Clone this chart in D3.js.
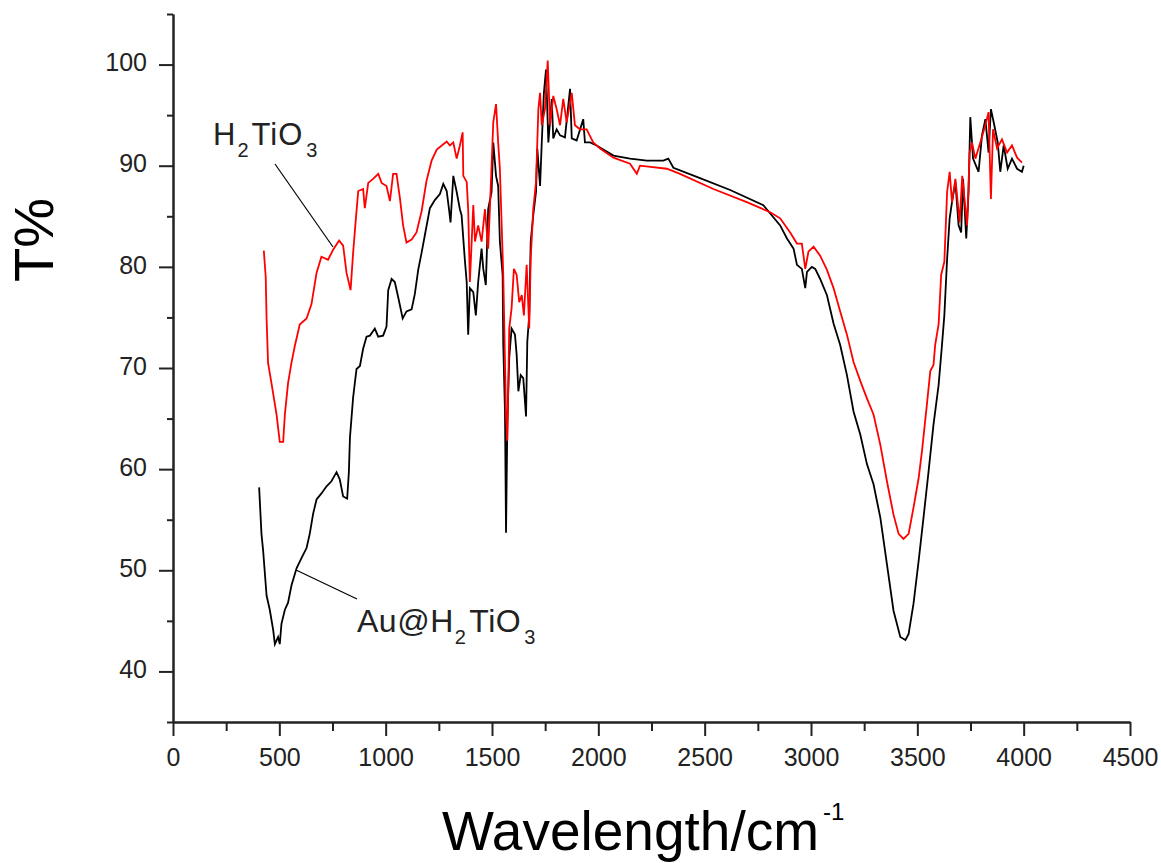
<!DOCTYPE html>
<html>
<head>
<meta charset="utf-8">
<script src="https://cdn.jsdelivr.net/npm/d3@7"></script>
<style>
  body { margin: 0; background: #fff; }
  text { font-family: "Liberation Sans", Arial, sans-serif; }
</style>
</head>
<body>
<div id="ftir-chart"></div>
<script>
// spectra: [wavenumber, T%]
var h2tio3 = [
  [427,81.6],[436,79.0],[440,74.9],[447,70.5],[463,68.5],[487,65.4],[502,62.7],[518,62.7],[526,65.4],
  [541,68.5],[557,70.5],[573,72.2],[596,74.3],[628,74.9],[651,76.3],[675,79.4],[698,81.0],[729,80.7],
  [753,81.7],[781,82.6],[800,82.1],[816,79.4],[835,77.7],[847,81.4],[860,84.8],[871,87.5],[894,87.7],
  [902,85.8],[918,88.3],[941,88.7],[965,89.2],[981,88.3],[1004,88.0],[1020,86.5],[1035,89.2],[1051,89.2],
  [1067,86.8],[1082,84.1],[1098,82.4],[1122,82.7],[1145,83.4],[1169,85.5],[1192,88.5],[1216,90.5],
  [1240,91.6],[1287,92.4],[1302,92.0],[1318,92.3],[1334,90.7],[1349,92.0],[1362,93.3],[1365,89.0],
  [1381,88.4],[1388,85.7],[1396,78.5],[1412,86.1],[1420,82.5],[1435,84.1],[1451,82.5],[1467,85.7],
  [1482,81.8],[1490,85.7],[1506,94.3],[1519,96.1],[1529,92.3],[1537,89.7],[1553,79.2],[1566,65.4],
  [1572,62.8],[1581,73.9],[1592,75.9],[1603,79.8],[1616,79.2],[1628,76.5],[1640,77.2],[1650,75.2],
  [1663,80.2],[1675,73.9],[1682,80.8],[1694,85.7],[1707,88.4],[1718,95.6],[1726,97.2],[1734,94.0],
  [1749,95.6],[1762,100.4],[1773,94.0],[1788,96.9],[1804,95.6],[1820,94.0],[1835,96.6],[1851,94.3],
  [1875,97.2],[1890,94.0],[1914,93.6],[1945,93.6],[1976,92.3],[2008,91.7],[2071,90.8],[2149,90.2],
  [2181,89.2],[2196,90.0],[2322,89.7],[2384,89.2],[2541,87.7],[2698,86.4],[2808,85.4],[2855,84.8],
  [2902,83.4],[2934,82.3],[2957,82.3],[2973,79.8],[2988,81.5],[3012,82.0],[3043,81.1],[3075,79.7],
  [3106,77.9],[3137,75.6],[3169,73.3],[3200,70.6],[3232,68.7],[3263,67.0],[3294,65.4],[3326,62.4],
  [3357,58.8],[3388,55.5],[3412,53.6],[3435,53.1],[3459,53.6],[3482,56.2],[3506,59.1],[3522,61.8],
  [3545,66.4],[3561,69.7],[3576,70.3],[3584,72.3],[3600,74.3],[3612,79.2],[3627,80.5],[3640,87.4],
  [3652,89.4],[3663,86.4],[3679,88.7],[3699,84.4],[3711,89.0],[3734,84.1],[3746,91.3],[3757,92.3],
  [3773,90.7],[3796,92.3],[3820,94.0],[3835,95.3],[3846,86.7],[3856,93.6],[3875,91.7],[3898,92.6],
  [3922,91.3],[3945,92.0],[3969,90.8],[3992,90.3]
];

var auH2tio3 = [
  [405,58.2],[416,53.6],[424,51.9],[440,47.5],[455,46.1],[471,44.1],[479,42.7],[494,43.4],[502,42.7],
  [510,44.7],[526,46.1],[541,46.8],[557,48.5],[581,50.2],[604,51.2],[628,52.2],[643,53.6],[659,55.6],
  [675,57.0],[698,57.6],[722,58.3],[745,58.8],[769,59.7],[784,59.0],[800,57.3],[819,57.1],[827,59.7],
  [832,63.1],[847,67.1],[855,68.5],[863,69.9],[879,70.2],[894,71.9],[910,73.1],[926,73.2],[949,73.9],
  [965,73.1],[988,73.2],[1004,74.1],[1012,77.7],[1028,78.8],[1043,78.5],[1059,77.0],[1080,74.9],
  [1098,75.6],[1122,75.8],[1137,77.3],[1153,79.7],[1169,81.4],[1184,83.1],[1208,85.8],[1231,86.6],
  [1255,87.2],[1271,88.2],[1287,87.5],[1299,85.5],[1305,84.4],[1318,89.0],[1334,87.4],[1349,85.7],
  [1357,85.1],[1373,80.5],[1381,78.5],[1388,73.3],[1396,77.9],[1412,77.5],[1424,75.2],[1435,78.5],
  [1451,81.8],[1459,79.8],[1471,78.2],[1482,85.7],[1498,87.4],[1506,92.3],[1519,89.0],[1529,88.0],
  [1537,82.5],[1550,79.2],[1553,72.3],[1561,65.7],[1566,53.7],[1572,64.4],[1581,71.0],[1592,73.9],
  [1608,73.3],[1616,71.3],[1624,67.7],[1635,69.3],[1647,69.0],[1660,65.2],[1666,72.6],[1675,75.2],
  [1682,82.5],[1694,85.1],[1707,87.4],[1713,91.7],[1726,88.0],[1734,92.3],[1744,97.2],[1754,99.5],
  [1765,92.3],[1781,96.6],[1788,92.7],[1804,93.6],[1820,93.0],[1843,92.8],[1867,97.6],[1875,92.7],
  [1898,92.5],[1929,94.6],[1937,92.3],[1961,92.3],[1992,92.0],[2071,91.0],[2149,90.7],[2228,90.5],
  [2306,90.5],[2329,90.7],[2353,89.8],[2463,88.9],[2620,87.6],[2776,86.1],[2855,84.1],[2887,82.8],
  [2918,81.8],[2934,80.2],[2957,79.8],[2973,77.9],[2981,79.5],[3004,80.0],[3020,79.8],[3043,78.8],
  [3075,77.2],[3106,74.4],[3137,72.3],[3169,69.3],[3200,65.7],[3232,63.4],[3263,60.5],[3294,58.5],
  [3326,55.2],[3357,50.6],[3388,46.0],[3420,43.4],[3444,43.1],[3459,43.7],[3482,46.7],[3506,50.9],
  [3529,55.2],[3553,59.8],[3576,64.4],[3600,68.3],[3616,72.3],[3627,75.2],[3640,80.8],[3652,84.8],
  [3663,86.4],[3679,88.4],[3694,84.1],[3706,83.4],[3715,88.7],[3730,82.8],[3741,87.4],[3749,94.8],
  [3762,90.7],[3788,89.4],[3804,93.0],[3820,94.6],[3835,91.3],[3846,95.6],[3862,94.0],[3878,92.3],
  [3890,89.4],[3906,92.0],[3925,89.7],[3945,90.7],[3969,89.7],[3992,89.4],[4000,90.0]
];

var xMajorTicks = [0, 500, 1000, 1500, 2000, 2500, 3000, 3500, 4000, 4500];
var xMinorTicks = [250, 750, 1250, 1750, 2250, 2750, 3250, 3750, 4250];
var yMajorTicks = [40, 50, 60, 70, 80, 90, 100];
var yMinorTicks = [35, 45, 55, 65, 75, 85, 95, 105];

// set the dimensions and margins of the graph
var margin = {top: 14, right: 31, bottom: 141, left: 173},
    width = 1161 - margin.left - margin.right,
    height = 863 - margin.top - margin.bottom;

var svg = d3.select("#ftir-chart")
  .append("svg")
    .attr("width", width + margin.left + margin.right)
    .attr("height", height + margin.top + margin.bottom)
  .append("g")
    .attr("transform", "translate(" + margin.left + "," + margin.top + ")");

var x = d3.scaleLinear().domain([0, 4500]).range([0, width]);
var y = d3.scaleLinear().domain([35, 105]).range([height, 0]);

// minor ticks first, no labels
svg.append("g")
    .attr("transform", "translate(0," + height + ")")
    .call(d3.axisBottom(x).tickValues(xMinorTicks).tickSize(9).tickSizeOuter(0).tickFormat(""));
svg.append("g")
    .call(d3.axisLeft(y).tickValues(yMinorTicks).tickSize(6).tickSizeOuter(0).tickFormat(""));

var xAxis = svg.append("g")
    .attr("transform", "translate(0," + height + ")")
    .call(d3.axisBottom(x).tickValues(xMajorTicks).tickSize(14).tickSizeOuter(0)
      .tickPadding(12).tickFormat(d3.format("d")));
xAxis.selectAll("text").style("font-size", "25px");

var yAxis = svg.append("g")
    .call(d3.axisLeft(y).tickValues(yMajorTicks).tickSize(14).tickSizeOuter(0)
      .tickPadding(12).tickFormat(d3.format("d")));
yAxis.selectAll("text").style("font-size", "25px").attr("dy", "0.25em");

svg.selectAll(".domain, .tick line")
    .attr("stroke", "#222")
    .attr("stroke-width", 2);
svg.selectAll(".tick text")
    .attr("fill", "#222")
    .style("font-family", "'Liberation Sans', Arial, sans-serif");

// spectra
var line = d3.line()
    .x(function(d) { return x(d[0]); })
    .y(function(d) { return y(d[1]); });

svg.append("path")
    .datum(auH2tio3)
    .attr("fill", "none")
    .attr("stroke", "#000")
    .attr("stroke-width", 1.8)
    .attr("d", line);

svg.append("path")
    .datum(h2tio3)
    .attr("fill", "none")
    .attr("stroke", "#ff0000")
    .attr("stroke-width", 1.8)
    .attr("d", line);

// labels with leader lines (page coordinates)
var root = d3.select("#ftir-chart svg");

root.append("line")
    .attr("x1", 275).attr("y1", 164).attr("x2", 333).attr("y2", 247)
    .attr("stroke", "#000").attr("stroke-width", 1.2);
root.append("line")
    .attr("x1", 296).attr("y1", 570).attr("x2", 357).attr("y2", 599)
    .attr("stroke", "#000").attr("stroke-width", 1.2);

var lab1 = root.append("text")
    .attr("x", 213).attr("y", 145)
    .attr("fill", "#222")
    .style("font-size", "31px")
    .style("letter-spacing", "1px");
lab1.append("tspan").text("H");
lab1.append("tspan").attr("dy", 12).attr("dx", 1).style("font-size", "20px").text("2");
lab1.append("tspan").attr("dy", -12).attr("dx", 2).text("TiO");
lab1.append("tspan").attr("dy", 12).attr("dx", 3).style("font-size", "20px").text("3");

var lab2 = root.append("text")
    .attr("x", 357).attr("y", 632)
    .attr("fill", "#222")
    .style("font-size", "32px")
    .style("letter-spacing", "0.5px");
lab2.append("tspan").text("Au@H");
lab2.append("tspan").attr("dy", 12).attr("dx", 1).style("font-size", "20px").text("2");
lab2.append("tspan").attr("dy", -12).attr("dx", 3).text("TiO");
lab2.append("tspan").attr("dy", 12).attr("dx", 3).style("font-size", "20px").text("3");

// axis titles
root.append("text")
    .attr("transform", "translate(53,240) rotate(-90)")
    .attr("text-anchor", "middle")
    .attr("fill", "#000")
    .style("font-size", "56px")
    .text("T%");

var xt = root.append("text")
    .attr("x", 442).attr("y", 850)
    .attr("fill", "#000")
    .style("font-size", "55px");
xt.append("tspan").text("Wavelength/cm");
xt.append("tspan").attr("dx", 4).attr("dy", -30).style("font-size", "24px").text("-1");
</script>
</body>
</html>
